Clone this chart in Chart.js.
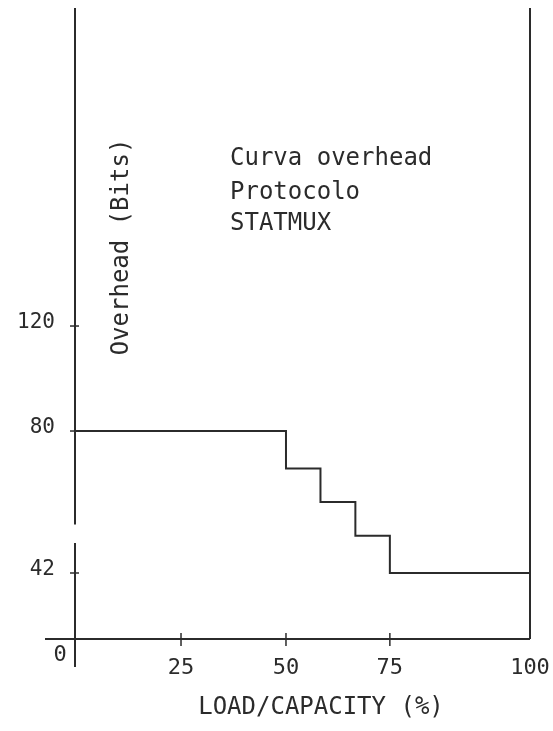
<!DOCTYPE html>
<html>
<head>
<meta charset="utf-8">
<script src="https://cdn.jsdelivr.net/npm/chart.js@4.4.1/dist/chart.umd.min.js"></script>
<style>
  html, body { margin: 0; padding: 0; background: #ffffff; }
  canvas { display: block; }
</style>
</head>
<body>
<canvas id="chart" width="553" height="731"></canvas>
<script>
// values
const loadPct = [0, 50, 58.3, 66.7, 75, 100]
const overheadBits = [80, 70, 61, 52, 42, 42]
const xTickValues = [25, 50, 75, 100]
const yTickValues = [42, 80, 120]
const noteLines = ["Curva overhead", "Protocolo", "STATMUX"]
const xTitle = "LOAD/CAPACITY (%)"
const yTitle = "Overhead (Bits)"

const ink = "#2b2b2b"
const fontFamily = "'DejaVu Sans Mono', 'Liberation Mono', monospace"

// the hand drawn axes are not to scale, so map value -> fraction of axis piece by piece
const scaleAnchors = {
    x: [[0, 0], [25, 0.233], [50, 0.4637], [75, 0.692], [100, 1]],
    y: [[0, 0], [42, 0.1046], [80, 0.3296], [120, 0.496], [240, 1]]
}

function toDecimal(anchors, value){
    for (let i = 1; i < anchors.length; i++){
        const [v0, d0] = anchors[i - 1]
        const [v1, d1] = anchors[i]
        if (value <= v1 || i === anchors.length - 1){
            return d0 + (value - v0) / (v1 - v0) * (d1 - d0)
        }
    }
}

function fromDecimal(anchors, dec){
    for (let i = 1; i < anchors.length; i++){
        const [v0, d0] = anchors[i - 1]
        const [v1, d1] = anchors[i]
        if (dec <= d1 || i === anchors.length - 1){
            return v0 + (dec - d0) / (d1 - d0) * (v1 - v0)
        }
    }
}

class PiecewiseScale extends Chart.LinearScale {
    getPixelForValue(value){
        if (value === null || value === undefined) return NaN
        return this.getPixelForDecimal(toDecimal(scaleAnchors[this.id], value))
    }
    getValueForPixel(pixel){
        return fromDecimal(scaleAnchors[this.id], this.getDecimalForPixel(pixel))
    }
}
PiecewiseScale.id = "piecewise"
PiecewiseScale.defaults = Chart.LinearScale.defaults
Chart.register(PiecewiseScale)

// keep the plot box where the drawing has it
function fixBox(scale, size){
    if (scale.isHorizontal()) scale.height = size
    else scale.width = size
    scale.paddingTop = 0
    scale.paddingBottom = 0
    scale.paddingLeft = 0
    scale.paddingRight = 0
}

// axis lines, tick marks and the free text of the drawing
const drawingPlugin = {
    id: "drawing",
    afterDatasetsDraw(chart){
        const ctx = chart.ctx
        const xs = chart.scales.x
        const ys = chart.scales.y
        const area = chart.chartArea
        const x0 = xs.getPixelForValue(0)
        const y0 = ys.getPixelForValue(0)

        function line(ax, ay, bx, by){
            ctx.beginPath()
            ctx.moveTo(ax, ay)
            ctx.lineTo(bx, by)
            ctx.stroke()
        }

        ctx.save()
        ctx.strokeStyle = ink
        ctx.lineWidth = 2
        ctx.lineCap = "butt"

        // left axis, broken between 50 and 55
        line(x0, area.top, x0, ys.getPixelForValue(55))
        line(x0, ys.getPixelForValue(50), x0, y0 + 28)
        // bottom axis
        line(x0 - 30, y0, area.right, y0)
        // right edge
        line(area.right, area.top, area.right, y0)

        ctx.lineWidth = 1.5
        xTickValues.slice(0, 3).forEach(v => {
            const px = xs.getPixelForValue(v)
            line(px, y0 - 6, px, y0 + 7)
        })
        yTickValues.forEach(v => {
            const py = ys.getPixelForValue(v)
            line(x0 - 5, py, x0 + 4, py)
        })

        ctx.fillStyle = ink
        ctx.textBaseline = "middle"

        // origin label
        ctx.font = "22px " + fontFamily
        ctx.textAlign = "center"
        ctx.fillText("0", x0 - 15, y0 + 16)

        // x title
        ctx.font = "24px " + fontFamily
        ctx.fillText(xTitle, 321, 708)

        // y title, written up the page inside the plot
        ctx.save()
        ctx.translate(122, 247)
        ctx.rotate(-Math.PI / 2)
        ctx.fillText(yTitle, 0, 0)
        ctx.restore()

        // note
        ctx.textAlign = "left"
        ctx.textBaseline = "alphabetic"
        const noteY = [165, 199, 230]
        noteLines.forEach((t, i) => ctx.fillText(t, 230, noteY[i]))

        ctx.restore()
    }
}

const points = loadPct.map((x, i) => ({x: x, y: overheadBits[i]}))

const chart = new Chart(document.getElementById("chart"), {
    type: "line",
    data: {
        datasets: [{
            label: "Overhead",
            data: points,
            stepped: "before",
            borderColor: ink,
            borderWidth: 2,
            pointRadius: 0,
            fill: false
        }]
    },
    options: {
        responsive: false,
        animation: false,
        layout: {
            padding: {left: 0, right: 23, top: 8, bottom: 0}
        },
        plugins: {
            legend: {display: false},
            tooltip: {enabled: false}
        },
        scales: {
            x: {
                type: "piecewise",
                min: 0,
                max: 100,
                afterFit: scale => fixBox(scale, 92),
                afterBuildTicks: scale => { scale.ticks = xTickValues.map(v => ({value: v})) },
                grid: {display: false},
                border: {display: false},
                ticks: {
                    color: ink,
                    padding: 8,
                    maxRotation: 0,
                    autoSkip: false,
                    font: {family: fontFamily, size: 22},
                    callback: v => String(v)
                }
            },
            y: {
                type: "piecewise",
                min: 0,
                max: 240,
                afterFit: scale => fixBox(scale, 75),
                afterBuildTicks: scale => { scale.ticks = yTickValues.map(v => ({value: v})) },
                grid: {display: false},
                border: {display: false},
                ticks: {
                    color: ink,
                    padding: 12,
                    autoSkip: false,
                    labelOffset: -3,
                    font: {family: fontFamily, size: 21},
                    callback: v => String(v)
                }
            }
        }
    },
    plugins: [drawingPlugin]
})
</script>
</body>
</html>
